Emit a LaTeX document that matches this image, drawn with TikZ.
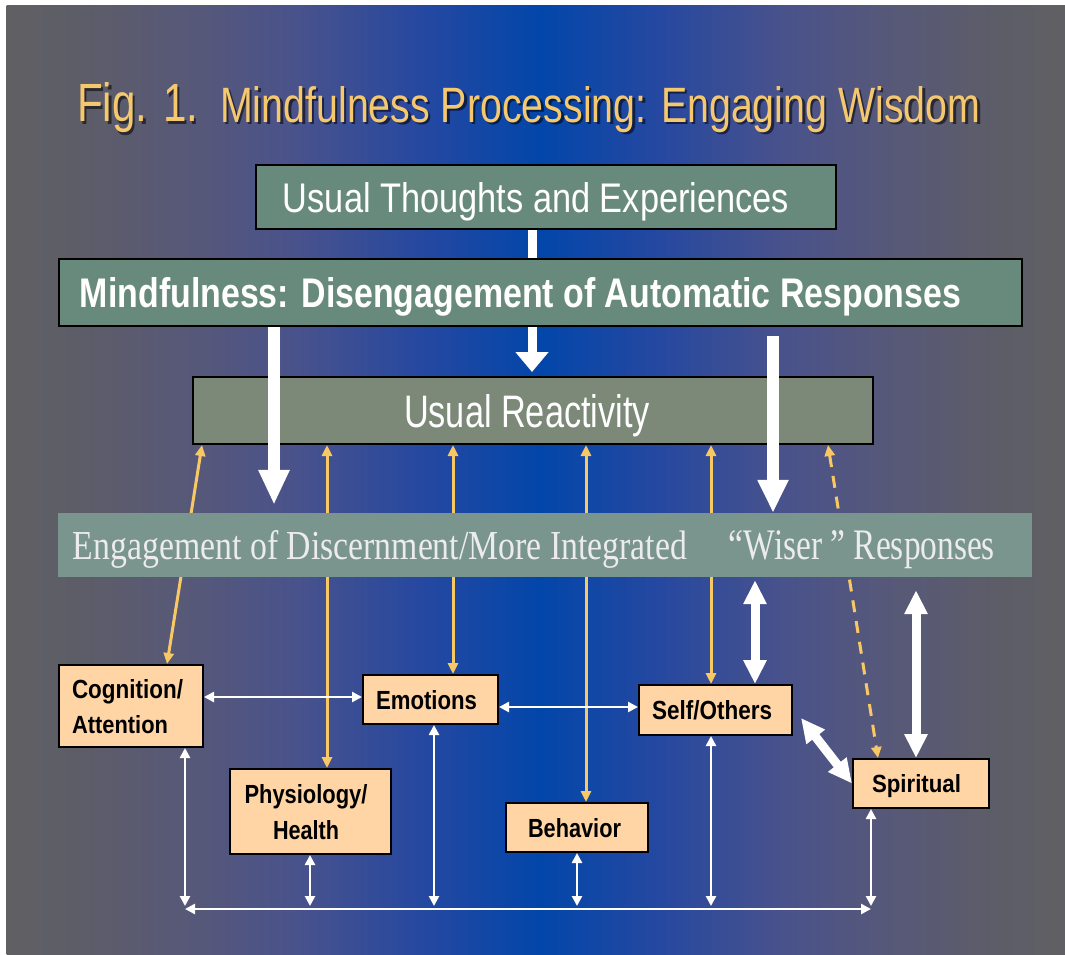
\documentclass[tikz,border=0pt]{standalone}
\usepackage{fontspec}
\setmainfont{Liberation Serif}
\setsansfont{Liberation Sans}
\usepackage{graphicx}
\usetikzlibrary{arrows.meta}

% text scaled to an exact width and height, with no depth
\newcommand{\fitbox}[3]{\raisebox{0pt}[\height][0pt]{\resizebox{#1pt}{#2pt}{#3}}}

% background ramp: grey at the sides, deep blue in the middle
\definecolor{g0}{RGB}{96,96,99}
\definecolor{g1}{RGB}{92,92,106}
\definecolor{g2}{RGB}{86,88,122}
\definecolor{g3}{RGB}{72,82,140}
\definecolor{g4}{RGB}{38,72,160}
\definecolor{g5}{RGB}{2,70,170}

\definecolor{titleYel}{RGB}{245,200,112}
\definecolor{boxTeal}{RGB}{104,138,124}
\definecolor{boxOlive}{RGB}{124,136,120}
\definecolor{bandTeal}{RGB}{122,148,142}
\definecolor{bandText}{RGB}{236,236,236}
\definecolor{peach}{RGB}{255,213,165}
\definecolor{linkYel}{RGB}{248,200,100}

\tikzset{
  bigbox/.style={draw=black, line width=2pt, inner sep=0pt, text=white},
  smallbox/.style={draw=black, line width=2pt, fill=peach, inner sep=0pt,
    text=black, font=\sffamily\bfseries},
  yel/.style={draw=linkYel, line width=3pt,
    >={Triangle[width=10pt,length=11pt]}, <->},
  wthin/.style={draw=white, line width=2.5pt,
    >={Triangle[width=10pt,length=10pt]}, <->},
  wdbl/.style={draw=white, line width=9pt,
    >={Triangle[width=22pt,length=24pt]}, <->},
  wbig/.style={draw=white, line width=12pt},
}

\begin{document}
\begin{tikzpicture}[x=1pt,y=-1pt]
\useasboundingbox (0,0) rectangle (1065,955);
\fill[white] (0,0) rectangle (1065,955);

% background
\foreach \xa/\xb/\ca/\cb in {7/100/g0/g1, 100/200/g1/g2, 200/300/g2/g3,
    300/420/g3/g4, 420/540/g4/g5, 540/660/g5/g4, 660/780/g4/g3,
    780/880/g3/g2, 880/980/g2/g1, 980/1065/g1/g0}
  \shade[left color=\ca, right color=\cb] (\xa-0.5,6) rectangle (\xb+0.5,955);

% title with its drop shadow
\node[anchor=base west, inner sep=0pt, text=black, opacity=0.55, font=\sffamily]
  (titleshadow) at (79.5,124.5)
  {\fitbox{121}{39}{Fig. 1.}\hspace{22pt}\fitbox{760}{36}{Mindfulness Processing: Engaging Wisdom}};
\node[anchor=base west, inner sep=0pt, text=titleYel, font=\sffamily]
  (title) at (77,122)
  {\fitbox{121}{39}{Fig. 1.}\hspace{22pt}\fitbox{760}{36}{Mindfulness Processing: Engaging Wisdom}};

% main stages
\node[bigbox, fill=boxTeal, minimum width=580pt, minimum height=64pt, font=\sffamily]
  (usual) at (546,197) {\fitbox{506}{30}{Usual Thoughts and Experiences}\hspace*{20pt}};
\node[bigbox, fill=boxTeal, minimum width=963pt, minimum height=67pt, font=\sffamily\bfseries]
  (mind) at (540.5,292.5) {\fitbox{881}{30}{Mindfulness: Disengagement of Automatic Responses}\hspace*{40pt}};
\node[bigbox, fill=boxOlive, minimum width=680pt, minimum height=67pt, font=\sffamily]
  (react) at (533,410.5) {\fitbox{246}{33}{Usual Reactivity}\hspace*{12pt}};

% domains
\node[smallbox, minimum width=144pt, minimum height=82pt, text width=118pt, align=left,
  font=\sffamily\bfseries\fontsize{20}{35}\selectfont]
  (cog) at (131,706) {\fitbox{111}{19}{Cognition/}\\\fitbox{96}{18}{Attention}};
\node[smallbox, minimum width=161pt, minimum height=85pt, align=center,
  font=\sffamily\bfseries\fontsize{20}{36}\selectfont]
  (phys) at (310.5,811.5) {\fitbox{123}{19}{Physiology/}\hspace*{9pt}\\\fitbox{66}{19}{Health}\hspace*{9pt}};
\node[smallbox, minimum width=135pt, minimum height=49pt]
  (emo) at (430.5,699.5) {\fitbox{101}{19}{Emotions}\hspace*{8pt}};
\node[smallbox, minimum width=142pt, minimum height=49pt]
  (behav) at (577,827.5) {\fitbox{93}{19}{Behavior}\hspace*{5pt}};
\node[smallbox, minimum width=153pt, minimum height=50pt]
  (self) at (715.5,710) {\fitbox{120}{19}{Self/Others}\hspace*{7pt}};
\node[smallbox, minimum width=136pt, minimum height=49pt]
  (spirit) at (921,783.5) {\fitbox{89}{18}{Spiritual}\hspace*{9pt}};

% reactivity feeding each domain
\draw[yel] (react.south -| 202,0) -- (cog.north -| 167,0);
\draw[yel] (react.south -| 327,0) -- (phys.north -| 327,0);
\draw[yel] (react.south -| 453,0) -- (emo.north -| 453,0);
\draw[yel] (react.south -| 586,0) -- (behav.north -| 586,0);
\draw[yel] (react.south -| 711,0) -- (self.north -| 711,0);
\draw[yel, dash pattern=on 12pt off 9pt] (react.south -| 828,0) -- (spirit.north -| 878,0);

% wiser responses band
\node[fill=bandTeal, minimum width=974pt, minimum height=64pt, inner sep=0pt,
  text=bandText, font=\rmfamily]
  (band) at (545,545) {\fitbox{614}{29}{Engagement of Discernment/More Integrated}\hspace{42pt}\fitbox{266}{29}{“Wiser ” Responses}\hspace*{22pt}};

% flow between the stages
\draw[draw=white, line width=9pt] (usual.south -| 532,0) -- (mind.north -| 532,0);
\draw[draw=white, line width=9pt, -{Triangle[width=32pt,length=20pt]}, shorten >=4pt]
  (mind.south -| 532,0) -- (react.north -| 532,0);
\draw[wbig, -{Triangle[width=29pt,length=35pt]}, shorten >=8pt]
  (mind.south -| 274,0) -- (band.north -| 274,0);
\draw[wbig, -{Triangle[width=29pt,length=33pt]}, shorten <=9pt]
  (mind.south -| 773,0) -- (band.north -| 773,0);

% wiser responses and the domains
\draw[wdbl, shorten <=3pt] (band.south -| 755,0) -- (self.north -| 755,0);
\draw[wdbl, shorten <=13pt] (band.south -| 916,0) -- (spirit.north -| 916,0);
\draw[wdbl] ([shift={(8,8)}]self.east) -- (spirit.west);

% links among the domains
\draw[wthin] (cog.east |- 0,697) -- (emo.west |- 0,697);
\draw[wthin] (emo.east |- 0,707) -- (self.west |- 0,707);

\coordinate (busL) at (185,909);
\coordinate (busP) at (310,909);
\coordinate (busE) at (434,909);
\coordinate (busB) at (577,909);
\coordinate (busS) at (711,909);
\coordinate (busR) at (871,909);
\draw[wthin] (busL) -- (busR);
\draw[wthin, shorten >=3pt] (cog.south -| busL) -- (busL);
\draw[wthin, shorten >=3pt] (phys.south -| busP) -- (busP);
\draw[wthin, shorten >=3pt] (emo.south -| busE) -- (busE);
\draw[wthin, shorten >=3pt] (behav.south -| busB) -- (busB);
\draw[wthin, shorten >=3pt] (self.south -| busS) -- (busS);
\draw[wthin, shorten >=3pt] (spirit.south -| busR) -- (busR);
\end{tikzpicture}
\end{document}
